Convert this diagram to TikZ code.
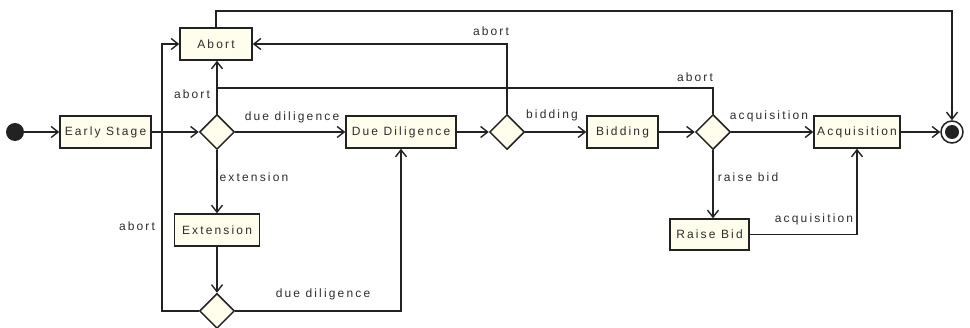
\documentclass[tikz,border=0pt]{standalone}
\usepackage{fontspec}
\setmainfont{Liberation Sans}[LetterSpace=18]
\usetikzlibrary{arrows.meta,shapes.geometric}

\definecolor{boxfill}{RGB}{255,253,236}
\definecolor{linec}{RGB}{34,34,34}
\definecolor{txt}{RGB}{45,45,45}

\tikzset{
  state/.style={draw=linec, fill=boxfill, line width=1.5pt, minimum height=32pt,
    inner sep=0pt, text=txt, font=\fontsize{12}{14}\selectfont},
  choice/.style={diamond, draw=linec, fill=boxfill, line width=1.5pt,
    minimum width=35pt, minimum height=35pt, inner sep=0pt},
  flow/.style={draw=linec, line width=1.4pt,
    -{Straight Barb[length=7pt,width=11pt,line width=1.4pt]}},
  link/.style={draw=linec, line width=1.4pt},
  lbl/.style={text=txt, inner sep=0pt, font=\fontsize{12}{14}\selectfont},
}

\begin{document}
\begin{tikzpicture}[x=1pt,y=-1pt]
\useasboundingbox (0,0) rectangle (970,328);

% states
\node[circle, fill=linec, minimum size=18pt, inner sep=0pt] (start) at (15,132) {};
\node[state, minimum width=91pt] (early) at (105.5,132) {Early Stage};
\node[state, minimum width=72pt] (abort) at (216,44) {Abort};
\node[choice] (d1) at (217,132) {};
\node[state, minimum width=110pt] (dd) at (401,132) {Due Diligence};
\node[choice] (d2) at (507,132) {};
\node[state, minimum width=71pt] (bid) at (622.5,132) {Bidding};
\node[choice] (d3) at (713,132) {};
\node[state, minimum width=86pt] (acq) at (857,132) {Acquisition};
\node[circle, draw=linec, line width=1.5pt, fill=white, minimum size=22pt, inner sep=0pt] (end) at (952,132) {};
\node[circle, fill=linec, minimum size=14pt, inner sep=0pt] (endin) at (end.center) {};
\node[state, minimum width=85pt] (ext) at (217,230) {Extension};
\node[choice] (d4) at (217,311) {};
\node[state, minimum width=79pt, minimum height=31pt] (rb) at (709.5,234.5) {Raise Bid};

% corner points
\coordinate (lcorner) at (162,44);
\coordinate (merge) at (217,88);
\coordinate (topleft) at (216,11);

% main flow
\draw[flow] (start) -- (early);
\draw[flow] (early) -- (d1);
\draw[flow] (d1) -- (dd);
\draw[flow] (dd) -- (d2);
\draw[flow] (d2) -- (bid);
\draw[flow] (bid) -- (d3);
\draw[flow] (d3) -- (acq);
\draw[flow] (acq) -- (end);

% aborts
\draw[flow] (d1.north) -- (d1.north |- abort.south);
\draw[link] (d3.north) |- (merge);
\draw[flow] (d2.north) |- (abort.east);
\draw[flow] (d4.west) -| (lcorner) -- (abort.west);
\draw[flow] (abort.north) -- (topleft) -| (end.north);

% extension branch
\draw[flow] (d1.south) -- (ext.north);
\draw[flow] (ext.south) -- (d4.north);
\draw[flow] (d4.east) -| (dd.south);

% raise bid branch
\draw[flow] (d3.south) -- (d3.south |- rb.north);
\draw[flow] (rb.east) -| (acq.south);

% guards
\node[lbl] (l1) at (192,94) {abort};
\node[lbl] (l2) at (292,117) {due diligence};
\node[lbl] (l3) at (254,177) {extension};
\node[lbl] (l4) at (137,226) {abort};
\node[lbl] (l5) at (323,294) {due diligence};
\node[lbl] (l6) at (491,31) {abort};
\node[lbl] (l7) at (552,115) {bidding};
\node[lbl] (l8) at (695,77) {abort};
\node[lbl] (l9) at (769,116) {acquisition};
\node[lbl] (l10) at (748,177) {raise bid};
\node[lbl] (l11) at (814,219) {acquisition};
\end{tikzpicture}
\end{document}
